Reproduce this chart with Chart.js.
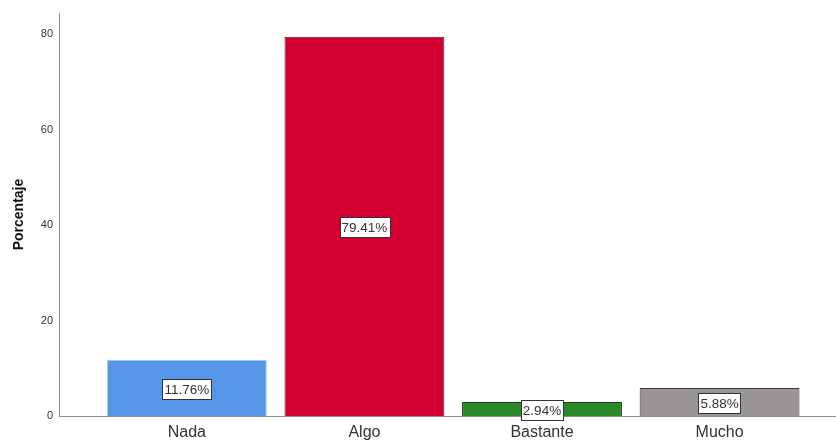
<!DOCTYPE html>
<html>
<head>
<meta charset="utf-8">
<script src="https://cdn.jsdelivr.net/npm/chart.js@4"></script>
<style>
  html, body { margin: 0; padding: 0; background: #fff; }
  #wrap { width: 836px; height: 442px; }
</style>
</head>
<body>
<div id="wrap"><canvas id="barChart" width="836" height="442"></canvas></div>
<script>
const categories = ['Nada', 'Algo', 'Bastante', 'Mucho'];
const percentages = [11.76, 79.41, 2.94, 5.88];
const barColors = ['#5596e6', '#d50032', '#2a8a2a', '#999595'];
const borderColors = ['#a8c6ee', '#3a2a2e', '#1f3a1f', '#3a3a3a'];
const yTicks = [0, 20, 40, 60, 80];

// white boxed value labels in the middle of each bar
const boxLabels = {
  id: 'boxLabels',
  afterDatasetsDraw(chart) {
    const ctx = chart.ctx;
    const meta = chart.getDatasetMeta(0);
    ctx.save();
    ctx.font = '13.5px "Liberation Sans", Arial, sans-serif';
    ctx.textAlign = 'center';
    ctx.textBaseline = 'middle';
    meta.data.forEach((bar, i) => {
      const p = bar.getProps(['x', 'y', 'base'], true);
      const text = percentages[i].toFixed(2) + '%';
      const w = ctx.measureText(text).width + 4;
      const h = 20;
      let cy = (p.y + p.base) / 2 + 1;
      if (cy + h / 2 > p.base + 5) cy = p.base - h / 2 + 5;
      ctx.fillStyle = '#ffffff';
      ctx.fillRect(Math.round(p.x - w / 2) + 0.5, Math.round(cy - h / 2) + 0.5, Math.round(w), h);
      ctx.strokeStyle = '#333333';
      ctx.lineWidth = 1;
      ctx.strokeRect(Math.round(p.x - w / 2) + 0.5, Math.round(cy - h / 2) + 0.5, Math.round(w), h);
      ctx.fillStyle = '#333333';
      ctx.fillText(text, p.x, cy + 1);
    });
    ctx.restore();
  }
};

const ctx = document.getElementById('barChart').getContext('2d');
new Chart(ctx, {
  type: 'bar',
  data: {
    datasets: [{
      data: percentages.map((v, i) => ({ x: i, y: v })),
      backgroundColor: barColors,
      borderColor: borderColors,
      borderWidth: 1,
      borderSkipped: 'start',
      barPercentage: 0.9,
      categoryPercentage: 1
    }]
  },
  options: {
    responsive: false,
    animation: false,
    layout: { padding: { top: 13, right: 1, left: 0, bottom: 0 } },
    plugins: {
      legend: { display: false },
      tooltip: { enabled: false }
    },
    scales: {
      x: {
        type: 'linear',
        offset: false,
        min: -0.72,
        max: 3.65,
        grid: { display: false, drawTicks: false, offset: false },
        border: { display: true, color: '#8c8c8c', width: 1 },
        afterBuildTicks: scale => { scale.ticks = categories.map((c, i) => ({ value: i })); },
        afterFit: scale => { scale.height = 26; },
        ticks: {
          padding: 7,
          color: '#333333',
          font: { family: '"Liberation Sans", Arial, sans-serif', size: 16 },
          callback: v => categories[v]
        }
      },
      y: {
        min: 0,
        max: 84.4,
        grid: { display: false, drawTicks: false },
        border: { display: true, color: '#8c8c8c', width: 1 },
        afterBuildTicks: scale => { scale.ticks = yTicks.map(v => ({ value: v })); },
        afterFit: scale => { scale.width = 59; },
        title: {
          display: true,
          text: 'Porcentaje',
          color: '#111111',
          font: { family: '"Liberation Sans", Arial, sans-serif', size: 14, weight: 'bold' },
          padding: { top: 11, bottom: 0 }
        },
        ticks: {
          padding: 6,
          color: '#333333',
          font: { family: '"Liberation Sans", Arial, sans-serif', size: 11 }
        }
      }
    }
  },
  plugins: [boxLabels]
});
</script>
</body>
</html>
